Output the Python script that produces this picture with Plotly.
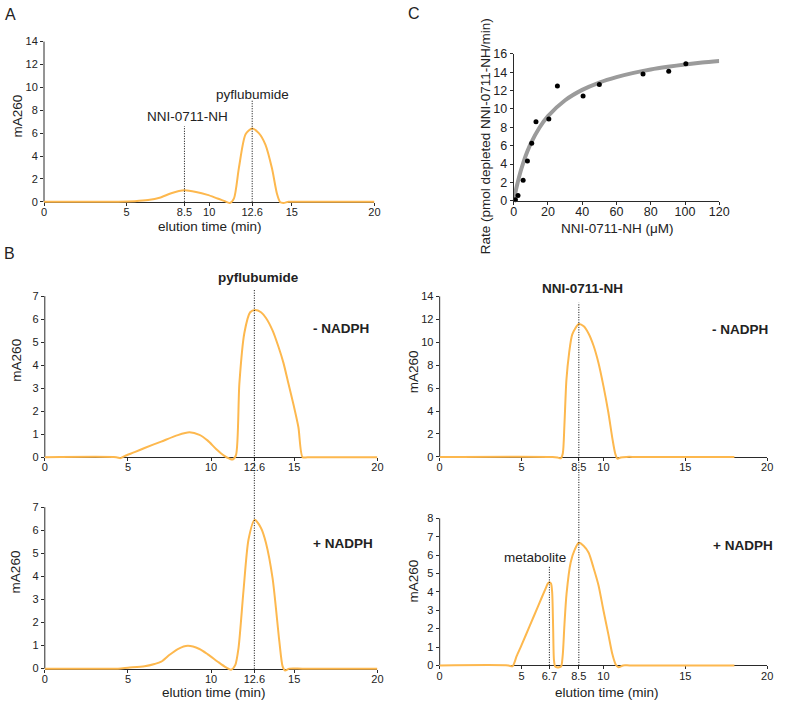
import plotly.graph_objects as go

W, H = 786, 707
FONT = "Arial, 'Liberation Sans', sans-serif"
TXT = "#222222"
AXC = "#2a2a2a"
ORANGE = "#FDB84E"
GRAY = "#9b9b9b"

# ---------------- data ----------------
# Panel A: standard mix
time_A = [0, 4.5, 5.5, 6.3, 7.0, 7.7, 8.5, 9.2, 9.9, 10.5, 10.9, 11.25, 11.5, 11.8, 12.2, 12.6, 13.0, 13.4, 13.8, 14.1, 14.3, 14.5, 14.8, 15.5, 20]
abs_A = [0, 0, 0.05, 0.15, 0.35, 0.75, 1.0, 0.86, 0.6, 0.28, 0.08, -0.1, 0.3, 3.0, 5.9, 6.4, 6.0, 5.0, 2.9, 0.7, -0.05, -0.1, 0, 0, 0]

# Panel B left: pyflubumide, - NADPH
time_Bl1 = [0, 4.3, 4.55, 4.8, 5.4, 6.0, 7.0, 8.0, 8.7, 9.3, 9.8, 10.3, 10.8, 11.1, 11.3, 11.5, 11.7, 12.0, 12.35, 12.65, 13.0, 13.3, 13.7, 14.05, 14.35, 14.65, 14.95, 15.25, 15.5, 15.8, 20]
abs_Bl1 = [0, 0, -0.04, 0.05, 0.22, 0.4, 0.68, 0.96, 1.08, 0.97, 0.72, 0.36, 0.06, -0.06, -0.1, 0.1, 3.2, 5.4, 6.3, 6.4, 6.3, 6.05, 5.5, 4.8, 4.1, 3.2, 2.3, 1.3, 0, 0, 0]

# Panel B left: pyflubumide, + NADPH
time_Bl2 = [0, 4.4, 5.0, 6.0, 6.6, 7.0, 7.5, 8.0, 8.6, 9.3, 9.8, 10.4, 10.9, 11.2, 11.45, 11.65, 11.95, 12.25, 12.62, 13.0, 13.3, 13.7, 14.1, 14.3, 14.45, 14.7, 15.5, 20]
abs_Bl2 = [0, 0, 0.04, 0.1, 0.2, 0.3, 0.6, 0.85, 0.99, 0.85, 0.62, 0.3, 0.05, -0.05, 0.15, 0.9, 3.4, 5.6, 6.45, 6.1, 5.45, 3.9, 1.2, 0.1, -0.08, 0, 0, 0]

# Panel B right: NNI-0711-NH, - NADPH
time_Br1 = [0, 6.9, 7.2, 7.4, 7.52, 7.62, 7.74, 7.9, 8.1, 8.5, 8.8, 9.1, 9.4, 9.7, 10.0, 10.3, 10.55, 10.72, 10.85, 11.05, 11.4, 12, 18]
abs_Br1 = [0, 0, -0.05, -0.12, 0.3, 2.8, 6.7, 9.0, 10.7, 11.6, 11.4, 10.75, 9.7, 8.2, 6.2, 3.9, 1.6, 0.3, -0.15, -0.05, 0, 0, 0]

# Panel B right: NNI-0711-NH, + NADPH
time_Br2 = [0, 4.2, 4.45, 4.7, 5.0, 5.5, 6.0, 6.5, 6.6, 6.7, 6.8, 6.87, 6.93, 6.98, 7.05, 7.15, 7.3, 7.42, 7.52, 7.62, 7.75, 8.0, 8.25, 8.5, 8.8, 9.1, 9.4, 9.7, 10.0, 10.3, 10.55, 10.75, 10.92, 11.2, 11.6, 18]
abs_Br2 = [0, 0, -0.05, 0.5, 1.1, 2.15, 3.2, 4.25, 4.45, 4.52, 4.45, 4.0, 2.05, 0.3, -0.05, -0.1, -0.1, -0.05, 0.6, 2.2, 3.9, 5.6, 6.3, 6.67, 6.5, 6.13, 5.3, 4.36, 3.0, 1.7, 0.6, 0.05, -0.1, 0, 0, 0]

# Panel C: kinetics
conc_C = [1, 2.5, 5.5, 8, 10.5, 13, 20.5, 25.5, 40.5, 50, 75.5, 90.5, 100.5]
rate_C = [0.1, 0.57, 2.24, 4.34, 6.26, 8.6, 8.9, 12.5, 11.4, 12.66, 13.8, 14.1, 14.9]
fit_conc_C = [0, 1, 2, 4, 6, 8, 10, 15, 20, 30, 40, 50, 60, 70, 80, 90, 100, 110, 120]
fit_rate_C = [0, 0.92, 1.75, 3.18, 4.38, 5.38, 6.25, 7.95, 9.21, 10.94, 12.07, 12.87, 13.46, 13.92, 14.29, 14.58, 14.83, 15.04, 15.22]

ticks_A = [0, 5, 8.5, 10, 12.6, 15, 20]
ticks_Bl = [0, 5, 10, 12.6, 15, 20]
ticks_Br1 = [0, 5, 8.5, 10, 15, 20]
ticks_Br2 = [0, 5, 6.7, 8.5, 10, 15, 20]


def pxx(p):
    return p / W


def pyy(p):
    return 1 - p / H


fig = go.Figure()
shapes = []

# chromatogram panels: (id, xl, xr, y0px, ytop_px, ymax, ymin, dtick, ticks, t, a)
panels = [
    ("", 41.7, 377.7, 198.7, 35.3, 14, -0.35, 2, ticks_A, time_A, abs_A),
    ("2", 42.5, 380.7, 459.3, 295.0, 7, -0.18, 1, ticks_Bl, time_Bl1, abs_Bl1),
    ("3", 42.5, 380.7, 675.0, 510.3, 7, -0.18, 1, ticks_Bl, time_Bl2, abs_Bl2),
    ("4", 444.0, 777.0, 459.0, 295.3, 14, -0.35, 2, ticks_Br1, time_Br1, abs_Br1),
    ("5", 444.0, 777.0, 671.7, 521.7, 8, -0.22, 1, ticks_Br2, time_Br2, abs_Br2),
]

for pid, xl, xr, y0, yt, ymax, ymin, dt, tv, t, a in panels:
    ppu = (y0 - yt) / ymax
    bottom = y0 - ymin * ppu
    xa = "xaxis" + pid
    ya = "yaxis" + pid
    fig.update_layout(**{
        xa: dict(domain=[pxx(xl), pxx(xr)], range=[0, 20], anchor="free",
                 position=pyy(y0), tickvals=tv, ticktext=[f"{v:g}" for v in tv],
                 ticks="outside", ticklen=3, tickwidth=1, tickcolor=AXC,
                 ticklabelstandoff=-3,
                 showline=True, linecolor=AXC, linewidth=1, showgrid=False,
                 zeroline=False, layer="below traces",
                 tickfont=dict(family=FONT, size=11, color=TXT)),
        ya: dict(domain=[pyy(bottom), pyy(yt)], range=[ymin, ymax],
                 anchor="x" + pid,
                 tickvals=list(range(0, ymax + 1, dt)),
                 ticks="outside", ticklen=3, tickwidth=1, tickcolor=AXC,
                 showline=False, showgrid=False, zeroline=False,
                 tickfont=dict(family=FONT, size=11, color=TXT)),
    })
    shapes.append(dict(type="line", xref="paper", yref="paper",
                       x0=pxx(xl), x1=pxx(xl), y0=pyy(y0), y1=pyy(yt),
                       line=dict(color=AXC, width=1), layer="below"))
    fig.add_trace(go.Scatter(x=t, y=a, mode="lines",
                             line=dict(color=ORANGE, width=2, shape="spline", smoothing=0.7),
                             xaxis="x" + pid, yaxis="y" + pid, hoverinfo="skip"))

# Panel C
fig.update_layout(
    xaxis6=dict(domain=[pxx(519.3), pxx(728.3)], range=[0, 120], anchor="y6",
                tickvals=list(range(0, 121, 20)), ticks="outside", ticklen=3,
                tickcolor=AXC, showline=True, linecolor=AXC, linewidth=1,
                showgrid=False, zeroline=False, ticklabelstandoff=-4,
                tickfont=dict(family=FONT, size=12.5, color=TXT)),
    yaxis6=dict(domain=[pyy(197.7), pyy(47.7)], range=[0, 16], anchor="x6",
                tickvals=list(range(0, 17, 2)), ticks="outside", ticklen=3,
                tickcolor=AXC, showline=True, linecolor=AXC, linewidth=1,
                showgrid=False, zeroline=False,
                tickfont=dict(family=FONT, size=12.5, color=TXT)),
)
fig.add_trace(go.Scatter(x=fit_conc_C, y=fit_rate_C, mode="lines",
                         line=dict(color=GRAY, width=4, shape="spline", smoothing=0.8),
                         xaxis="x6", yaxis="y6", hoverinfo="skip"))
fig.add_trace(go.Scatter(x=conc_C, y=rate_C, mode="markers",
                         marker=dict(color="black", size=5), cliponaxis=False,
                         xaxis="x6", yaxis="y6", hoverinfo="skip"))

# dotted marker lines
DOT = dict(color="black", width=1, dash="1px,1.5px")
shapes += [
    dict(type="line", xref="x", yref="y", x0=8.5, x1=8.5, y0=0, y1=6.6, line=DOT),
    dict(type="line", xref="x", yref="y", x0=12.6, x1=12.6, y0=0, y1=8.9, line=DOT),
    dict(type="line", xref="x2", yref="paper", x0=12.6, x1=12.6, y0=pyy(675.0), y1=pyy(288.3), line=DOT),
    dict(type="line", xref="x4", yref="paper", x0=8.5, x1=8.5, y0=pyy(671.7), y1=pyy(301.7), line=DOT),
    dict(type="line", xref="x5", yref="y5", x0=6.7, x1=6.7, y0=0, y1=5.42, line=DOT),
]


def ann(text, x, y, size=13.5, bold=False, angle=0):
    t = f"<b>{text}</b>" if bold else text
    return dict(text=t, x=pxx(x), y=pyy(y), xref="paper", yref="paper",
                xanchor="center", yanchor="middle", showarrow=False, textangle=angle,
                font=dict(family=FONT, size=size, color=TXT))


annotations = [
    ann("A", 7.5, 7.5, size=16),
    ann("B", 6.5, 251, size=16),
    ann("C", 417.5, 6.5, size=16),
    # A
    ann("mA260", 15, 111, angle=-90),
    ann("elution time (min)", 210, 224),
    ann("NNI-0711-NH", 187.5, 112),
    ann("pyflubumide", 253.7, 89),
    # B left
    ann("pyflubumide", 259.5, 275.5, bold=True),
    ann("- NADPH", 344, 328, bold=True),
    ann("+ NADPH", 346, 547, bold=True),
    ann("mA260", 14, 360, angle=-90),
    ann("mA260", 13, 576, angle=-90),
    ann("elution time (min)", 215, 699),
    # B right
    ann("NNI-0711-NH", 589, 286.7, bold=True),
    ann("- NADPH", 749, 329, bold=True),
    ann("+ NADPH", 752.5, 549.5, bold=True),
    ann("metabolite", 540.5, 561.7),
    ann("mA260", 417.5, 372, angle=-90),
    ann("mA260", 417, 586, angle=-90),
    ann("elution time (min)", 614, 699),
    # C
    ann("NNI-0711-NH (μM)", 625, 226),
    ann("Rate (pmol depleted NNI-0711-NH/min)", 490, 132, angle=-90),
]

fig.update_layout(
    width=W, height=H, margin=dict(l=0, r=0, t=0, b=0),
    paper_bgcolor="white", plot_bgcolor="rgba(0,0,0,0)",
    showlegend=False, shapes=shapes, annotations=annotations,
    font=dict(family=FONT, color=TXT),
)

fig.write_html(
    "out.html",
    config={"displayModeBar": False},
    post_script="document.body.style.margin='0';document.body.style.padding='0';"
                "document.documentElement.style.overflow='hidden';",
)
